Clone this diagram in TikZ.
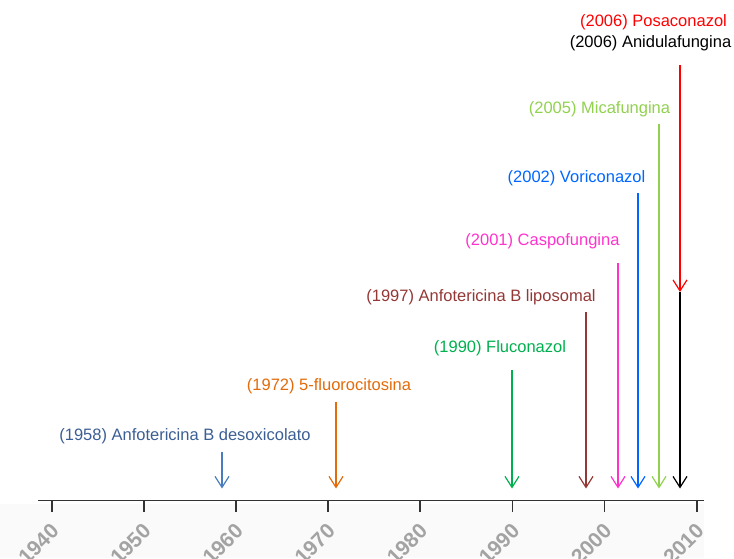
\documentclass[tikz,border=0pt]{standalone}
\usepackage{fontspec}
\setmainfont{Liberation Sans}
\usepackage{tikz}
\usetikzlibrary{arrows.meta}
\definecolor{azulgris}{rgb}{0.23,0.37,0.58}
\definecolor{azulflecha}{rgb}{0.29,0.49,0.75}
\definecolor{naranja}{rgb}{0.89,0.42,0.04}
\definecolor{verde}{rgb}{0.,0.69,0.31}
\definecolor{granate}{rgb}{0.58,0.22,0.21}
\definecolor{rosa}{rgb}{1.,0.2,0.8}
\definecolor{azul}{rgb}{0.,0.4,1.}
\definecolor{verdeclaro}{rgb}{0.57,0.82,0.31}
\definecolor{rojo}{rgb}{1.,0.,0.}
\definecolor{gristexto}{rgb}{0.64,0.64,0.64}
\tikzstyle{every node}=[font=\fontsize{16.5}{19}\selectfont,inner sep=0pt]

\begin{document}
\begin{tikzpicture}[line cap=butt,line join=miter,x=1pt,y=1pt,
    flecha/.style={-{Straight Barb[length=11pt,width=14pt]},line width=1.2pt},
    marca/.style={line width=1.8pt,color=black!80},
    anio/.style={rotate=45,anchor=north east,color=gristexto,font=\fontsize{21}{25}\selectfont\bfseries}]
    \useasboundingbox (0,0) rectangle (734,558);
    \clip (0,0) rectangle (734,558);
    \fill[color=black!2] (0,0) rectangle (704,54);
    % eje de los anios
    \draw[marca] (38,57.5) -- (704,57.5);
    \draw[marca] (51.7,57.5) -- (51.7,46);
    \draw[marca] (143.8,57.5) -- (143.8,46);
    \draw[marca] (236.0,57.5) -- (236.0,46);
    \draw[marca] (328.1,57.5) -- (328.1,46);
    \draw[marca] (420.3,57.5) -- (420.3,46);
    \draw[marca] (512.4,57.5) -- (512.4,46);
    \draw[marca] (604.5,57.5) -- (604.5,46);
    \draw[marca] (696.7,57.5) -- (696.7,46);
    \node[anio] (y1940) at (49.7,36) {1940};
    \node[anio] (y1950) at (141.8,36) {1950};
    \node[anio] (y1960) at (234.0,36) {1960};
    \node[anio] (y1970) at (326.1,36) {1970};
    \node[anio] (y1980) at (418.3,36) {1980};
    \node[anio] (y1990) at (510.4,36) {1990};
    \node[anio] (y2000) at (602.5,36) {2000};
    \node[anio] (y2010) at (694.7,36) {2010};
    % antifungicos
    \node[color=azulgris] (t58) at (185,122) {(1958) Anfotericina B desoxicolato};
    \node[color=naranja] (t72) at (329,172) {(1972) 5-fluorocitosina};
    \node[color=verde] (t90) at (500,210) {(1990) Fluconazol};
    \node[color=granate] (t97) at (481,261) {(1997) Anfotericina B liposomal};
    \node[color=rosa] (t01) at (542.5,317) {(2001) Caspofungina};
    \node[color=azul] (t02) at (576.5,380) {(2002) Voriconazol};
    \node[color=verdeclaro] (t05) at (599.5,449) {(2005) Micafungina};
    \node[color=black] (t06a) at (650.5,515) {(2006) Anidulafungina};
    \node[color=rojo] (t06p) at (653.5,536) {(2006) Posaconazol};
    \coordinate (a58) at (222,106);
    \coordinate (b58) at (222,69.5);
    \coordinate (a72) at (336,156);
    \coordinate (b72) at (336,69.5);
    \coordinate (a90) at (512,188);
    \coordinate (b90) at (512,69.5);
    \coordinate (a97) at (586,246);
    \coordinate (b97) at (586,69.5);
    \coordinate (a01) at (618,295);
    \coordinate (b01) at (618,69.5);
    \coordinate (a02) at (638,365);
    \coordinate (b02) at (638,69.5);
    \coordinate (a05) at (659,434);
    \coordinate (b05) at (659,69.5);
    \coordinate (a06) at (680,493);
    \coordinate (m06) at (680,266);
    \coordinate (b06) at (680,69.5);
    \draw[flecha,color=azulflecha] (a58) -- (b58);
    \draw[flecha,color=naranja] (a72) -- (b72);
    \draw[flecha,color=verde] (a90) -- (b90);
    \draw[flecha,color=granate] (a97) -- (b97);
    \draw[flecha,color=rosa] (a01) -- (b01);
    \draw[flecha,color=azul] (a02) -- (b02);
    \draw[flecha,color=verdeclaro] (a05) -- (b05);
    \draw[flecha,color=rojo] (a06) -- (m06);
    \draw[flecha,color=black] (m06) -- (b06);
\end{tikzpicture}
\end{document}
